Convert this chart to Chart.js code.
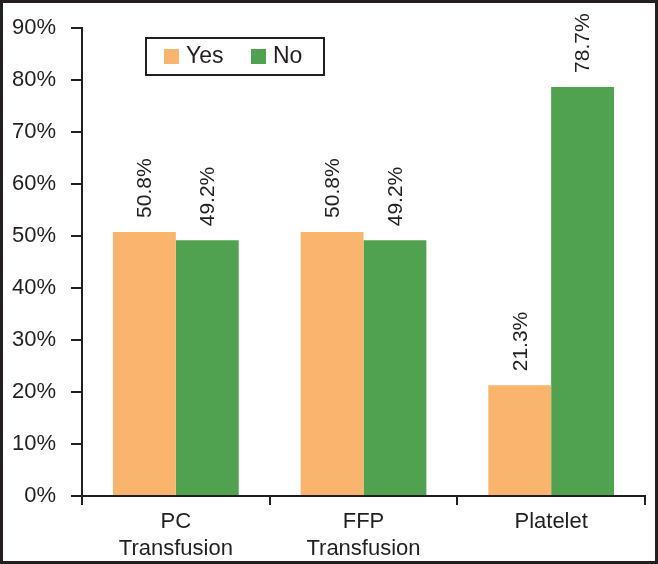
<!DOCTYPE html>
<html>
<head>
<meta charset="utf-8">
<script src="https://cdn.jsdelivr.net/npm/chart.js@4"></script>
<style>
  html, body { margin: 0; padding: 0; background: #fff; }
  #wrap { width: 658px; height: 564px; }
</style>
</head>
<body>
<div id="wrap"><canvas id="chart" width="658" height="564"></canvas></div>
<script>
const categories = [['PC', 'Transfusion'], ['FFP', 'Transfusion'], 'Platelet'];
const yesValues = [50.8, 50.8, 21.3];
const noValues = [49.2, 49.2, 78.7];
const seriesNames = ['Yes', 'No'];
const FONT = "'Liberation Sans', Arial, sans-serif";
const INK = '#231f20';

// white background + black frame round the picture
const framePlugin = {
  id: 'frame',
  beforeDraw(chart) {
    const ctx = chart.ctx;
    ctx.save();
    ctx.fillStyle = '#fff';
    ctx.fillRect(0, 0, chart.width, chart.height);
    ctx.restore();
  },
  afterDraw(chart) {
    const ctx = chart.ctx;
    ctx.save();
    ctx.strokeStyle = INK;
    ctx.lineWidth = 3;
    ctx.strokeRect(1.5, 1.5, chart.width - 3, chart.height - 3);
    ctx.restore();
  }
};

// rotated value labels above each bar
const valueLabels = {
  id: 'valueLabels',
  afterDatasetsDraw(chart) {
    const ctx = chart.ctx;
    ctx.save();
    ctx.fillStyle = INK;
    ctx.font = '21px ' + FONT;
    ctx.textAlign = 'left';
    ctx.textBaseline = 'middle';
    chart.data.datasets.forEach((ds, i) => {
      chart.getDatasetMeta(i).data.forEach((bar, j) => {
        ctx.save();
        ctx.translate(bar.x + 1, bar.y - 14);
        ctx.rotate(-Math.PI / 2);
        ctx.fillText(ds.data[j].toFixed(1) + '%', 0, 0);
        ctx.restore();
      });
    });
    ctx.restore();
  }
};

// boxed legend inside the plot area
const boxLegend = {
  id: 'boxLegend',
  afterDraw(chart) {
    const ctx = chart.ctx;
    const x0 = 146, y0 = 38, w = 178, h = 37;
    ctx.save();
    ctx.fillStyle = '#fff';
    ctx.fillRect(x0, y0, w, h);
    ctx.strokeStyle = INK;
    ctx.lineWidth = 2;
    ctx.strokeRect(x0, y0, w, h);
    ctx.font = '23px ' + FONT;
    ctx.textBaseline = 'middle';
    ctx.textAlign = 'left';
    const starts = [164, 251];
    chart.data.datasets.forEach((ds, i) => {
      const sx = starts[i];
      ctx.fillStyle = ds.backgroundColor;
      ctx.fillRect(sx, 49, 15, 15);
      ctx.fillStyle = INK;
      ctx.fillText(ds.label, sx + 22, 57);
    });
    ctx.restore();
  }
};

new Chart(document.getElementById('chart'), {
  type: 'bar',
  data: {
    labels: categories,
    datasets: [
      { label: seriesNames[0], data: yesValues, backgroundColor: '#F9B56E' },
      { label: seriesNames[1], data: noValues, backgroundColor: '#50A150' }
    ]
  },
  options: {
    responsive: false,
    animation: false,
    devicePixelRatio: 1,
    layout: { padding: { top: 26, right: 13, left: 0, bottom: 0 } },
    plugins: {
      legend: { display: false },
      tooltip: { enabled: false }
    },
    datasets: {
      bar: { categoryPercentage: 0.67, barPercentage: 1.0 }
    },
    scales: {
      x: {
        grid: { drawOnChartArea: false, drawTicks: true, tickLength: 9, color: INK, lineWidth: 2, offset: true },
        border: { display: true, color: INK, width: 2 },
        ticks: { color: INK, font: { family: FONT, size: 22, lineHeight: 1.23 }, padding: 3, maxRotation: 0 },
        afterFit(scale) { scale.height = 68; }
      },
      y: {
        min: 0,
        max: 90,
        ticks: {
          stepSize: 10,
          color: INK,
          font: { family: FONT, size: 22 },
          padding: 15,
          callback: v => v + '%'
        },
        grid: { drawOnChartArea: false, drawTicks: true, tickLength: 11, color: INK, lineWidth: 2 },
        border: { display: true, color: INK, width: 2 },
        afterFit(scale) { scale.width = 82; }
      }
    }
  },
  plugins: [framePlugin, valueLabels, boxLegend]
});
</script>
</body>
</html>
